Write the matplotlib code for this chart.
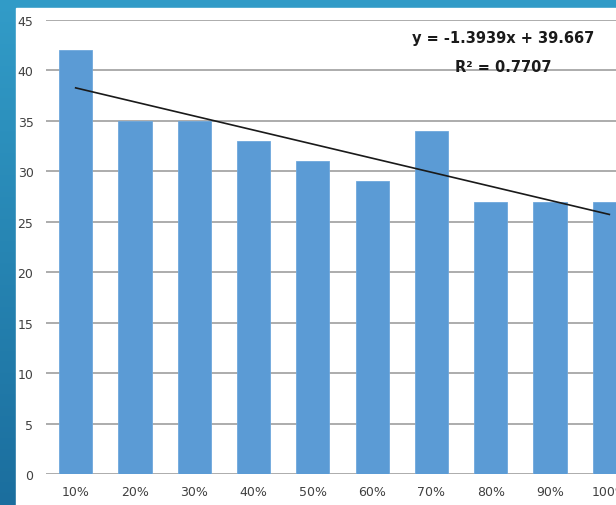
import numpy as np
import matplotlib.pyplot as plt
from matplotlib.patches import Rectangle

# bar chart with linear trend line
categories = ['10%', '20%', '30%', '40%', '50%', '60%', '70%', '80%', '90%', '100%']
values = [42, 35, 35, 33, 31, 29, 34, 27, 27, 27]

x = np.arange(1, len(values) + 1)
slope, intercept = np.polyfit(x, values, 1)
fitted = slope * x + intercept
ss_res = np.sum((np.array(values) - fitted) ** 2)
ss_tot = np.sum((np.array(values) - np.mean(values)) ** 2)
r2 = 1 - ss_res / ss_tot

W, H = 616, 506
fig = plt.figure(figsize=(W / 100, H / 100), dpi=100)

# blue slide background with a white panel
bg = fig.add_axes([0, 0, 1, 1], zorder=-10)
grad = np.linspace(0, 1, 256).reshape(-1, 1)
top_c = np.array([0x32, 0x9c, 0xc8]) / 255
bot_c = np.array([0x1b, 0x6e, 0x9e]) / 255
img = top_c + grad[..., None] * (bot_c - top_c)
bg.imshow(img, aspect='auto', extent=[0, 1, 0, 1], origin='upper')
bg.add_patch(Rectangle((16 / W, 0), 1, 1 - 9 / H, color='white'))
bg.set_xlim(0, 1)
bg.set_ylim(0, 1)
bg.axis('off')

ax = fig.add_axes([46 / W, 31 / H, (639 - 46) / W, (475 - 21) / H])
ax.set_facecolor('none')
ax.bar(x, values, width=0.56, color='#5b9bd5', edgecolor='#6fa8dc', linewidth=0.6, zorder=2)
ax.plot(x, fitted, color='#1a1a1a', linewidth=1.2, zorder=3)

ax.set_xlim(0.5, 10.5)
ax.set_ylim(0, 45)
ax.set_yticks(range(0, 46, 5))
ax.set_xticks(x)
ax.set_xticklabels(categories)
ax.yaxis.grid(True, color='#a6a6a6', linewidth=1.3, zorder=0)
ax.set_axisbelow(True)
for s in ax.spines.values():
    s.set_visible(False)
ax.tick_params(axis='both', length=0, labelsize=9, colors='#404040')
ax.tick_params(axis='y', pad=9)
ax.tick_params(axis='x', pad=8)

fig.text(503 / W, 1 - 39 / H, f'y = {slope:.4f}x + {intercept:.3f}',
         ha='center', va='center', fontsize=10.5, fontweight='bold', color='#1a1a1a')
fig.text(503 / W, 1 - 67 / H, f'R² = {r2:.4f}',
         ha='center', va='center', fontsize=10.5, fontweight='bold', color='#1a1a1a')

fig.savefig('out.png', dpi=100)
